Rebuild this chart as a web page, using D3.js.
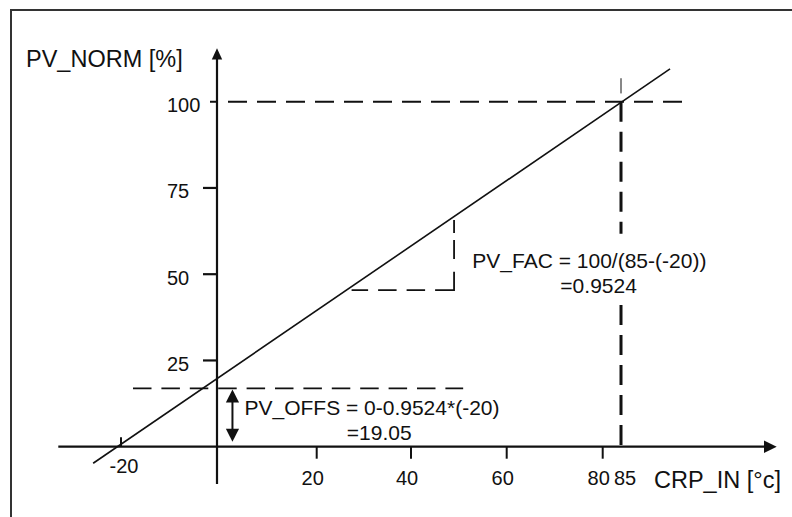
<!DOCTYPE html>
<html>
<head>
<meta charset="utf-8">
<script src="https://cdn.jsdelivr.net/npm/d3@7"></script>
<style>
  html, body { margin: 0; padding: 0; background: #fff; }
  svg { display: block; }
  text { font-family: "Liberation Sans", Arial, Helvetica, sans-serif; fill: #111; }
</style>
</head>
<body>
<svg id="chart" width="792" height="517"></svg>
<script>
// ---- data ----
const xTickValues = [-20, 20, 40, 60, 80, 85];
const xTickLabels = ["-20", "20", "40", "60", "80", "85"];
const yTickValues = [25, 50, 75, 100];
const yTickLabels = ["25", "50", "75", "100"];
const xBreaks = [-20, 0, 20, 40, 60, 80, 85];          // schematic axis anchors
const lineX = [-25.8, 98.4];                           // characteristic line ends
const lineY = [-4.8, 109.5];
const rangeEnd = { x: 85, y: 100, guideTop: 106.8, guideThinEnd: 102.4, gapTop: 61.7, gapBottom: 41.1 };
const facTriX = [27.4, 49];
const facTriY = [45.4, 65.7];
const offsLineX = [-17.5, 50.9];
const offsLineY = 16.9;
const offsArrowX = 3.1;
const offsArrowY = [16.6, 1.4];
const xTitle = "CRP_IN [°c]";
const yTitle = "PV_NORM [%]";
const facLines = ["PV_FAC = 100/(85-(-20))", "=0.9524"];
const offsLines = ["PV_OFFS = 0-0.9524*(-20)", "=19.05"];

// ---- scales ----
const x = d3.scaleLinear().domain(xBreaks).range([121, 217, 316.7, 411, 506.7, 602.7, 621]);
const y = d3.scaleLinear().domain([0, 100]).range([446.7, 101.7]);

const svg = d3.select("#chart");
const ink = "#111";

// frame
svg.append("rect").attr("x", 11).attr("y", 10).attr("width", 900).attr("height", 700)
  .attr("fill", "none").attr("stroke", "#333").attr("stroke-width", 2);

// axes
const x0 = x(0), y0 = y(0);
svg.append("line").attr("x1", 58.3).attr("x2", 766).attr("y1", y0).attr("y2", y0)
  .attr("stroke", ink).attr("stroke-width", 2.2);
svg.append("path").attr("d", `M776.7,${y0} L764,${y0 - 6.3} L764,${y0 + 6.3} Z`).attr("fill", ink);
svg.append("line").attr("x1", x0).attr("x2", x0).attr("y1", 484).attr("y2", 58)
  .attr("stroke", ink).attr("stroke-width", 2.2);
svg.append("path").attr("d", `M${x0},48.3 L${x0 - 5.2},59.5 L${x0 + 5.2},59.5 Z`).attr("fill", ink);

// x ticks
xTickValues.forEach((v, i) => {
  const px = x(v);
  if (v !== 85) {
    svg.append("line").attr("x1", px).attr("x2", px)
      .attr("y1", v < 0 ? y0 - 9.5 : y0).attr("y2", v < 0 ? y0 : y0 + 12)
      .attr("stroke", ink).attr("stroke-width", 2);
  }
  svg.append("text").attr("x", px + (v === 85 ? 4 : -4) + (v < 0 ? 7 : 0))
    .attr("y", v < 0 ? 473 : 485)
    .attr("text-anchor", "middle").attr("font-size", 20).text(xTickLabels[i]);
});

// y ticks
yTickValues.forEach((v, i) => {
  const py = y(v);
  if (v !== 100) {
    svg.append("line").attr("x1", x0 - 14).attr("x2", x0).attr("y1", py).attr("y2", py)
      .attr("stroke", ink).attr("stroke-width", 2.2);
  }
  svg.append("text").attr("x", 167).attr("y", py + 10.5)
    .attr("font-size", 20).text(yTickLabels[i]);
});

// titles
svg.append("text").attr("x", 26).attr("y", 67.3).attr("font-size", 23.5).text(yTitle);
svg.append("text").attr("x", 654).attr("y", 488.3).attr("font-size", 23.5).text(xTitle);

// 100 % guide (horizontal dashed)
svg.append("line").attr("x1", 210).attr("x2", 682).attr("y1", y(rangeEnd.y)).attr("y2", y(rangeEnd.y))
  .attr("stroke", ink).attr("stroke-width", 2).attr("stroke-dasharray", "19,10").attr("stroke-dashoffset", 11);

// 85 guide (vertical)
svg.append("line").attr("x1", x(rangeEnd.x)).attr("x2", x(rangeEnd.x))
  .attr("y1", y(rangeEnd.guideTop)).attr("y2", y(rangeEnd.guideThinEnd))
  .attr("stroke", ink).attr("stroke-width", 1);
svg.append("line").attr("x1", x(rangeEnd.x)).attr("x2", x(rangeEnd.x))
  .attr("y1", y(rangeEnd.y)).attr("y2", y(rangeEnd.gapTop))
  .attr("stroke", ink).attr("stroke-width", 3).attr("stroke-dasharray", "20,10");
svg.append("line").attr("x1", x(rangeEnd.x)).attr("x2", x(rangeEnd.x))
  .attr("y1", y(rangeEnd.gapBottom)).attr("y2", y0)
  .attr("stroke", ink).attr("stroke-width", 3).attr("stroke-dasharray", "20,10");

// PV_FAC triangle
const triPath = d3.path();
triPath.moveTo(x(facTriX[1]), y(facTriY[1]));
triPath.lineTo(x(facTriX[1]), y(facTriY[0]));
triPath.lineTo(x(facTriX[0]), y(facTriY[0]));
svg.append("path").attr("d", triPath.toString()).attr("fill", "none")
  .attr("stroke", ink).attr("stroke-width", 1.8)
  .attr("stroke-dasharray", "13,7,19,12.7,37.3,10,18.5,10,18.5,10,18.5");

// PV_OFFS line
svg.append("line").attr("x1", x(offsLineX[0])).attr("x2", x(offsLineX[1]))
  .attr("y1", y(offsLineY)).attr("y2", y(offsLineY))
  .attr("stroke", ink).attr("stroke-width", 1.8).attr("stroke-dasharray", "18.5,9.9");

// double arrow
const ax = x(offsArrowX), ayTop = y(offsArrowY[0]), ayBot = y(offsArrowY[1]);
svg.append("line").attr("x1", ax).attr("x2", ax).attr("y1", ayTop + 10).attr("y2", ayBot - 10)
  .attr("stroke", ink).attr("stroke-width", 2);
svg.append("path").attr("d", `M${ax},${ayTop} L${ax - 6.6},${ayTop + 13} L${ax + 6.6},${ayTop + 13} Z`).attr("fill", ink);
svg.append("path").attr("d", `M${ax},${ayBot} L${ax - 6.6},${ayBot - 13} L${ax + 6.6},${ayBot - 13} Z`).attr("fill", ink);

// characteristic line
const lineData = lineX.map((v, i) => [v, lineY[i]]);
svg.append("path").datum(lineData)
  .attr("d", d3.line().x(d => x(d[0])).y(d => y(d[1])))
  .attr("fill", "none").attr("stroke", ink).attr("stroke-width", 1.6);

// annotations
const facX = x(facTriX[1]) + 18.3;
svg.append("text").attr("x", facX).attr("y", 268.3).attr("font-size", 21).text(facLines[0]);
svg.append("text").attr("x", facX + 88).attr("y", 292.7).attr("font-size", 21).text(facLines[1]);
const offX = ax + 12;
svg.append("text").attr("x", offX).attr("y", 415).attr("font-size", 21).text(offsLines[0]);
svg.append("text").attr("x", offX + 102.4).attr("y", 440).attr("font-size", 21).text(offsLines[1]);
</script>
</body>
</html>
